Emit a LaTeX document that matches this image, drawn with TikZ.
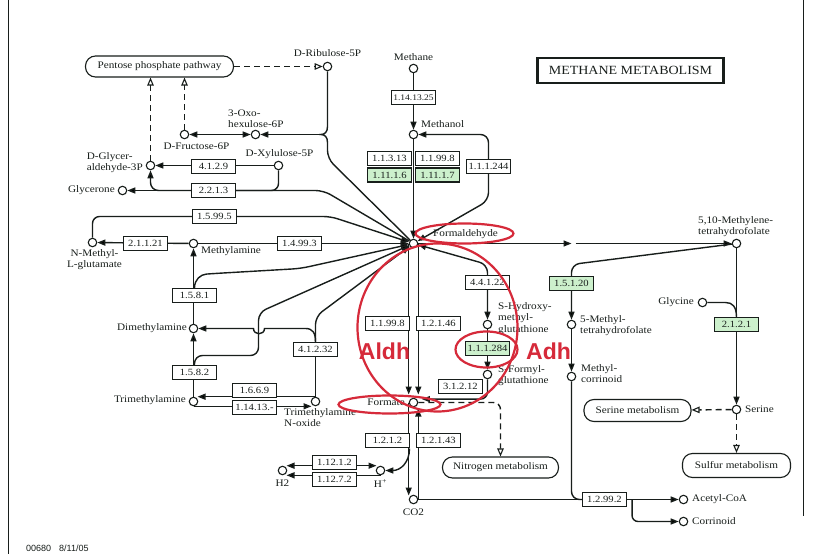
\documentclass[tikz,border=0pt]{standalone}
\usepackage{fontspec}
\setmainfont{Liberation Serif}[FakeStretch=1.12]
\newfontfamily\sansfam{Liberation Sans}
\usetikzlibrary{arrows.meta}
\definecolor{ink}{RGB}{24,30,27}
\definecolor{enzgreen}{RGB}{204,240,204}
\definecolor{markred}{RGB}{214,42,58}
\newcommand\mylab{\fontsize{10}{11.5}\selectfont}
\newcommand\myec{\fontsize{9.5}{10}\selectfont}
\pgfdeclarelayer{bg}
\pgfsetlayers{bg,main}
\begin{document}
\begin{tikzpicture}[x=1pt, y=-1pt, color=ink, line width=1.4pt,
  met/.style={circle, draw=ink, fill=white, line width=1.1pt, minimum size=8.5pt, inner sep=0pt},
  ec/.style={draw=ink, fill=white, line width=1.1pt, minimum width=44pt, minimum height=14pt, inner sep=0pt, font=\myec},
  ecg/.style={ec, fill=enzgreen},
  lab/.style={inner sep=0pt, font=\mylab, align=left},
  pw/.style={draw=ink, fill=white, rounded corners=10pt, line width=1.1pt, minimum height=21pt, inner sep=0pt, font=\mylab},
  conn/.style={draw=ink, line width=1.4pt},
  arw/.style={-{Triangle[length=8pt,width=6pt]}},
  arw2/.style={{Triangle[length=8pt,width=6pt]}-{Triangle[length=8pt,width=6pt]}},
  oarw/.style={-{Triangle[open,length=8pt,width=6.5pt,line width=1.1pt]}},
  dsh/.style={dash pattern=on 6pt off 4pt},
  redmk/.style={draw=markred, line width=2.2pt},
  redtxt/.style={text=markred, inner sep=0pt, font=\sansfam\bfseries\fontsize{23}{23}\selectfont}]
% half-unit offset keeps the 1pt grid on pixel centres
\useasboundingbox (-0.5,-0.5) rectangle (814.5,553.5);

% ---------- pathway boxes and title ----------
\node[pw, minimum width=148pt] (ppp) at (159,66) {Pentose phosphate pathway};
\node[draw=ink, line width=2.4pt, minimum width=186pt, minimum height=25pt, inner sep=0pt,
      font=\fontsize{12.5}{13}\selectfont] (maptitle) at (630,70) {METHANE METABOLISM};
\node[pw, minimum width=116pt] (nitro) at (500,467) {Nitrogen metabolism};
\node[pw, minimum width=107pt, minimum height=22pt] (sermet) at (637,410) {Serine metabolism};
\node[pw, minimum width=108pt, minimum height=24pt] (sulfmet) at (736,465) {Sulfur metabolism};

% ---------- compounds ----------
\node[met] (ribu) at (327,66) {};
\node[lab] (ribuL) at (327,53) {D-Ribulose-5P};
\node[met] (methane) at (413,68) {};
\node[lab] (methaneL) at (413,57) {Methane};
\node[met] (methanol) at (413,134) {};
\node[lab, anchor=west] (methanolL) at (420,124) {Methanol};
\node[met] (fru) at (184,134) {};
\node[lab] (fruL) at (196,146) {D-Fructose-6P};
\node[met] (oxo) at (255,134) {};
\node[lab, anchor=west] (oxoL) at (227,118) {3-Oxo-\\hexulose-6P};
\node[met] (xyl) at (278,165) {};
\node[lab] (xylL) at (279,154) {D-Xylulose-5P};
\node[met] (gap) at (150,165) {};
\node[lab, anchor=east] (gapL) at (143,162) {D-Glycer-\\aldehyde-3P};
\node[met] (glyc) at (122,190) {};
\node[lab, anchor=east] (glycL) at (115,190) {Glycerone};
\node[met] (nmg) at (92,242) {};
\node[lab, align=center] (nmgL) at (94,259) {N-Methyl-\\L-glutamate};
\node[met] (mea) at (193,243) {};
\node[lab, anchor=west] (meaL) at (200,251) {Methylamine};
\node[met] (dma) at (193,328) {};
\node[lab, anchor=east] (dmaL) at (187,328) {Dimethylamine};
\node[met] (tma) at (193,401) {};
\node[lab, anchor=east] (tmaL) at (186,400) {Trimethylamine};
\node[met] (tmao) at (315,401) {};
\node[lab, anchor=north west] (tmaoL) at (283,407) {Trimethylamine\\N-oxide};
\node[met] (fald) at (413,243) {};
\node[lab, anchor=west] (faldL) at (432,234) {Formaldehyde};
\node[met] (shg) at (487,324) {};
\node[lab, anchor=west] (shgL) at (497,318) {S-Hydroxy-\\methyl-\\glutathione};
\node[met] (sfg) at (487,374) {};
\node[lab, anchor=west] (sfgL) at (497,375) {S-Formyl-\\glutathione};
\node[met] (formate) at (413,402) {};
\node[lab, anchor=east] (formateL) at (405,402) {Formate};
\node[met] (hplus) at (380,470) {};
\node[lab] (hplusL) at (380,483) {H\textsuperscript{+}};
\node[met] (h2) at (282,470) {};
\node[lab] (h2L) at (282,483) {H2};
\node[met] (co2) at (413,499) {};
\node[lab] (co2L) at (413,512) {CO2};
\node[met] (mthf) at (736,243) {};
\node[lab, anchor=west] (mthfL) at (697,226) {5,10-Methylene-\\tetrahydrofolate};
\node[met] (mthf5) at (571,324) {};
\node[lab, anchor=west] (mthf5L) at (579,325) {5-Methyl-\\tetrahydrofolate};
\node[met] (mcor) at (571,376) {};
\node[lab, anchor=west] (mcorL) at (580,373) {Methyl-\\corrinoid};
\node[met] (gly) at (702,302) {};
\node[lab, anchor=east] (glyL) at (694,302) {Glycine};
\node[met] (ser) at (736,409) {};
\node[lab, anchor=west] (serL) at (744,409) {Serine};
\node[met] (acoa) at (683,499) {};
\node[lab, anchor=west] (acoaL) at (691,499) {Acetyl-CoA};
\node[met] (corr) at (683,521) {};
\node[lab, anchor=west] (corrL) at (691,521) {Corrinoid};

% ---------- enzymes ----------
\node[ec, font=\fontsize{8.5}{9}\selectfont] (e1141325) at (413,97) {1.14.13.25};
\node[ec] (e11313) at (389,158) {1.1.3.13};
\node[ec] (e11998a) at (437,158) {1.1.99.8};
\node[ecg] (e11116) at (389,174.5) {1.11.1.6};
\node[ecg] (e11117) at (437,174.5) {1.11.1.7};
\node[ec] (e111244) at (488,166) {1.1.1.244};
\node[ec] (e4129) at (213,166) {4.1.2.9};
\node[ec] (e2213) at (213,190) {2.2.1.3};
\node[ec] (e15995) at (214,216) {1.5.99.5};
\node[ec] (e21121) at (145,243) {2.1.1.21};
\node[ec] (e14993) at (299,243) {1.4.99.3};
\node[ec] (e1581) at (194,295) {1.5.8.1};
\node[ec] (e1582) at (194,372) {1.5.8.2};
\node[ec] (e41232) at (315,349) {4.1.2.32};
\node[ec] (e1669) at (254,390) {1.6.6.9};
\node[ec] (e11413) at (254,407) {1.14.13.-};
\node[ec] (e11998b) at (387,323) {1.1.99.8};
\node[ec] (e12146) at (438,323) {1.2.1.46};
\node[ec] (e44122) at (487,282) {4.4.1.22};
\node[ecg] (e111284) at (487,348) {1.1.1.284};
\node[ec] (e31212) at (460,386) {3.1.2.12};
\node[ec] (e1212) at (387,440) {1.2.1.2};
\node[ec] (e12143) at (438,440) {1.2.1.43};
\node[ec] (e11212) at (334,462) {1.12.1.2};
\node[ec] (e11272) at (334,479) {1.12.7.2};
\node[ecg] (e15120) at (571,283) {1.5.1.20};
\node[ecg] (e2121) at (736,324) {2.1.2.1};
\node[ec] (e12992) at (604,499) {1.2.99.2};

% ---------- annotations ----------
\draw[redmk] (437,327) ellipse [x radius=80, y radius=84];
\draw[redmk] (464,233) ellipse [x radius=49, y radius=10];
\draw[redmk] (389,404) ellipse [x radius=51, y radius=9];
\draw[redmk] (486,349) ellipse [x radius=31, y radius=18];
\node[redtxt] (aldh) at (384,351) {Aldh};
\node[redtxt] (adh) at (548,351) {Adh};

\node[font=\sansfam\fontsize{9}{10}\selectfont, anchor=west, inner sep=0pt] (mapno) at (25,548) {00680};
\node[font=\sansfam\fontsize{9}{10}\selectfont, anchor=west, inner sep=0pt] (mapdate) at (58,548) {8/11/05};

% ---------- connectors ----------
\begin{pgfonlayer}{bg}
\fill[white] (-0.5,-0.5) rectangle (814.5,553.5);
\begin{scope}[every path/.append style={conn}]
\draw (8,-0.5) -- (8,553.5);
\draw (803,-0.5) -- (803,515);

% pentose phosphate links
\draw[dsh, oarw] (ppp.east) -- (ribu);
\draw[dsh, oarw] (fru) -- (fru |- ppp.south);
\draw[dsh, oarw] (gap) -- (gap |- ppp.south);

% ribulose monophosphate cycle
\coordinate (oxj) at (320,134);
\draw (ribu) -- (327,126) .. controls (327,132) and (324,134) .. (oxj)
      .. controls (324,134) and (327,136) .. (327,142) [rounded corners=8pt] -- (327,158) -- (fald);
\draw[arw] (oxj) -- (oxo);
\draw[arw2] (oxo) -- (fru);
\draw[arw] (xyl) -- (gap);
\draw[rounded corners=7pt] (xyl) |- (e2213);
\draw[rounded corners=8pt] (fald) -- (323,190) -- (e2213);
\draw[arw] (e2213) -- (glyc);
\draw[arw, rounded corners=8pt] (e2213.west) -| (gap);

% methylamines
\draw[arw, rounded corners=7pt] (nmg) |- (330,216) -- (fald);
\draw[arw] (mea) -- (nmg);
\draw[arw] (mea) -- (fald);
\draw[arw] (dma) -- (mea);
\draw[arw, rounded corners=8pt] (e1581.north) .. controls (194,279) and (200,274) .. (214,273) -- (300,268) -- (fald);
\draw[arw] (tma) -- (dma);
\draw[arw, rounded corners=8pt] (e1582.north) |- (258,355) -- (258,312) -- (fald);
\draw (tmao) -- (e41232);
\draw[arw, rounded corners=8pt] (e41232.north) -- (315,316) -- (fald);
\draw[arw] (e41232.north) .. controls (315,332) and (312,328) .. (305,328) -- (264,328)
      .. controls (264,335) and (253,335) .. (253,328) -- (dma);
\draw[arw, shorten >=4pt] (tmao.north) -- (tma.north);
\draw[arw, shorten >=4pt] (tma.south) -- (tmao.south);

% methane to formaldehyde
\draw[arw] (methane) -- (methanol);
\draw[arw] (methanol) -- (fald);
\draw[arw2, rounded corners=8pt] (methanol) -- (488,134) -- (488,200) -- (fald);

% glutathione route
\draw[arw2, rounded corners=8pt] (fald) -- (487,264) -- (shg);
\draw[arw] (shg) -- (sfg);
\draw[arw, rounded corners=7pt, shorten >=5pt] (sfg) |- (formate.north east);

% formaldehyde - formate - CO2
\draw[arw, shorten >=8pt] (fald.west) -- (formate.west);
\draw[arw, shorten >=8pt] (fald.east) -- (formate.east);
\draw[arw, shorten >=4pt] (formate.west) -- (co2.west);
\draw[arw, shorten >=6pt] (co2.east) -- (formate.east);
\coordinate (hj) at (409,448);
\draw[arw] (hj) .. controls (409,462) and (400,470) .. (hplus);
\draw[arw2, shorten >=4pt, shorten <=4pt] (h2.north) -- (hplus.north);
\draw[arw, shorten >=4pt] (hplus.south) -- (h2.south);
\draw[dsh, oarw, rounded corners=7pt] (formate.east) -| (nitro.north);

% tetrahydrofolate branch
\coordinate (gl) at (571,243);
\coordinate (gr) at (575,243);
\draw[arw] (fald) -- (gl);
\draw[arw] (gr) -- (mthf);
\draw[arw, rounded corners=8pt] (mthf) -- (571,264) -- (mthf5);
\draw[arw] (mthf5) -- (mcor);
\draw[rounded corners=8pt] (mcor) |- (e12992.west);
\draw (co2) -- (e12992);
\draw[arw] (e12992) -- (acoa);
\draw[arw, rounded corners=6pt] (e12992.east) ++(5,0) |- (corr);
\draw[arw] (mthf) -- (ser);
\coordinate (glyj) at (736,317);
\draw (gly) -- (725,302) .. controls (732,302) and (736,306) .. (glyj);
\draw[dsh, oarw] (ser) -- (sermet);
\draw[dsh, oarw] (ser) -- (sulfmet);
\end{scope}
\end{pgfonlayer}
\end{tikzpicture}
\end{document}
